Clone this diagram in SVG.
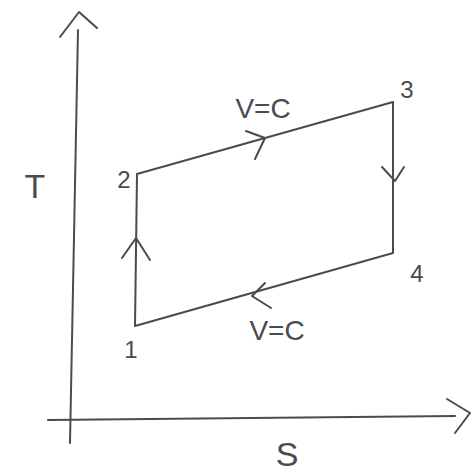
<svg xmlns="http://www.w3.org/2000/svg" width="472" height="473" viewBox="0 0 472 473">
<style>
.ln{fill:none;stroke:#4a4a52;stroke-width:2;stroke-linecap:round;stroke-linejoin:round}
.tx{font-family:"Liberation Sans",Arial,sans-serif;fill:#4a4a52;font-weight:normal}
</style>
<rect width="472" height="473" fill="#ffffff"/>
<g id="axes">
<path class="ln" d="M78,30 L70,443"/>
<path class="ln" d="M60,37 L79,12 L97,28"/>
<path class="ln" d="M48,420 L455,416"/>
<path class="ln" d="M447,399 L470,413 L455,433"/>
<text class="tx" x="35" y="198" font-size="34" text-anchor="middle">T</text>
<text class="tx" x="287" y="466" font-size="34" text-anchor="middle">S</text>
</g>
<g id="connectors">
<path class="ln" d="M137,174 L393,102 L393,253 L135,326 Z"/>
<path class="ln" d="M246,131 L265,138 L255,159"/>
<path class="ln" d="M382,167 L395,181 L404,167"/>
<path class="ln" d="M122,258 L136,238 L150,260"/>
<path class="ln" d="M265,283 L252,296 L271,308"/>
</g>
<g id="node2"><text class="tx" x="124" y="188" font-size="24" text-anchor="middle">2</text></g>
<g id="node3"><text class="tx" x="407" y="98" font-size="24" text-anchor="middle">3</text></g>
<g id="node4"><text class="tx" x="417" y="282" font-size="24" text-anchor="middle">4</text></g>
<g id="node1"><text class="tx" x="131" y="358" font-size="24" text-anchor="middle">1</text></g>
<g id="label-top"><text class="tx" x="263" y="118" font-size="28" text-anchor="middle">V=C</text></g>
<g id="label-bottom"><text class="tx" x="277" y="340" font-size="28" text-anchor="middle">V=C</text></g>
</svg>
